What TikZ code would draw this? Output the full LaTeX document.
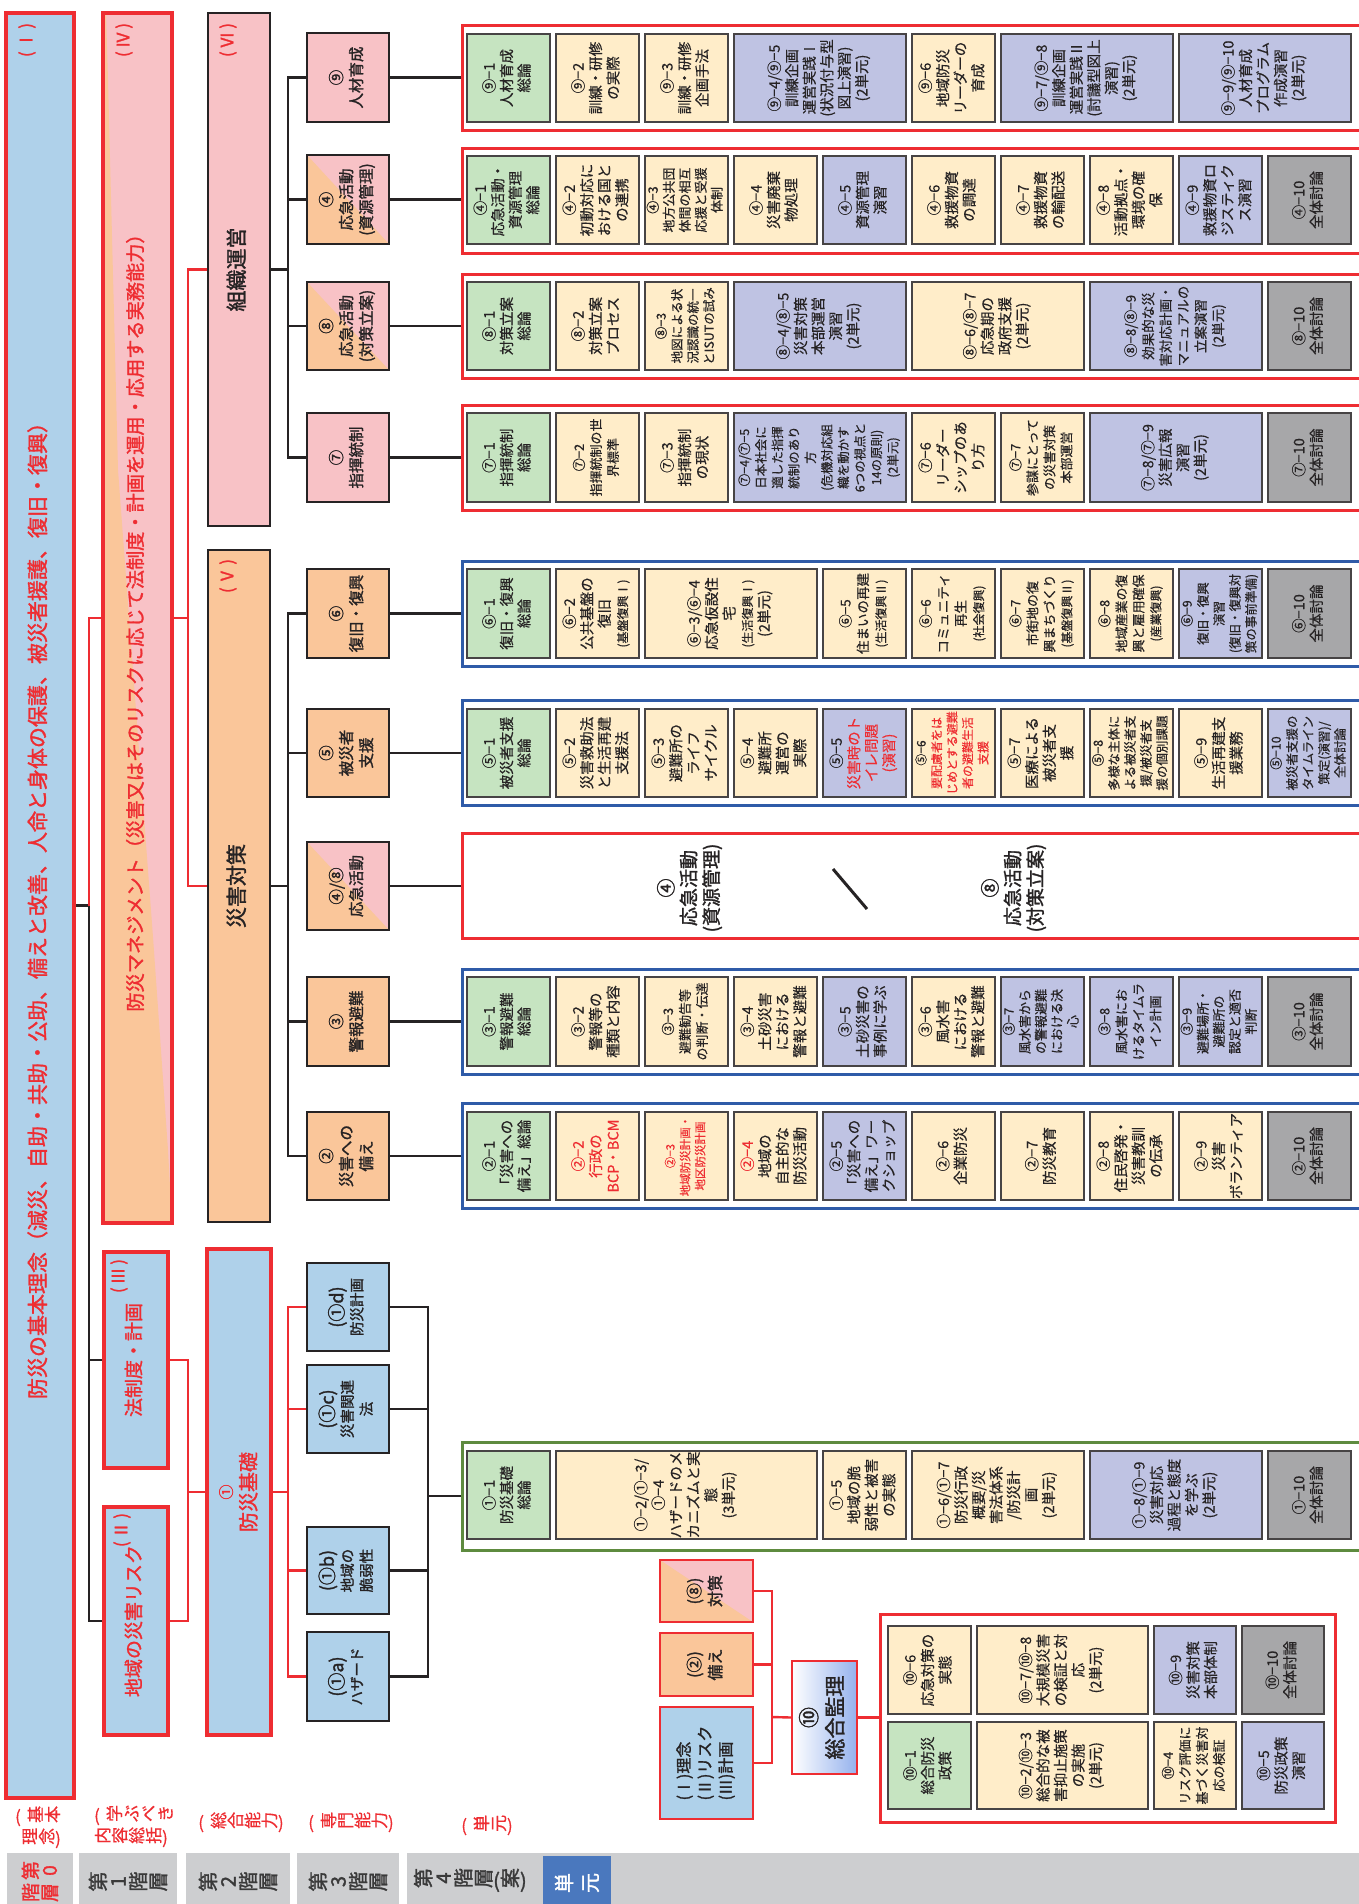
\documentclass[tikz,border=0pt]{standalone}
\usepackage{fontspec}
\setmainfont{Noto Sans CJK JP}[AutoFakeBold=1.5]
\newfontfamily\medf{Noto Sans CJK JP}[FakeBold=0.45]
\usepackage{graphicx}
\definecolor{lblue}{HTML}{AFD1EA}
\definecolor{pinkc}{HTML}{F8C2C6}
\definecolor{peach}{HTML}{FAC69A}
\definecolor{redc}{HTML}{EE2D32}
\definecolor{grn}{HTML}{C6E4C1}
\definecolor{crm}{HTML}{FFEDC9}
\definecolor{lav}{HTML}{BFC3E3}
\definecolor{gry}{HTML}{A7A7A9}
\definecolor{bfr}{HTML}{2F5BA8}
\definecolor{gfr}{HTML}{5E8B3F}
\definecolor{band}{HTML}{CDCED0}
\definecolor{tang}{HTML}{4A78BE}
\definecolor{ink}{HTML}{262324}
\definecolor{bandtxt}{HTML}{3A3A3A}
\newcommand\fs[2]{\fontsize{#1}{#2}\selectfont}
\newcommand\rt[1]{\rotatebox{90}{\begin{tabular}{@{}c@{}}#1\end{tabular}}}
\newcommand\rtl[1]{\rotatebox{90}{\begin{tabular}{@{}l@{}}#1\end{tabular}}}
\newcommand\BX[7][]{\node[inner sep=0pt,minimum width={#4-#3},minimum height={#6-#5},#1] (#2) at ({(#3+#4)/2},{(#5+#6)/2}) {#7};}
\newcommand\UB[8][]{\BX[ubox,fill=#7,#1]{#2}{#3}{#4}{#5}{#6}{\rt{#8}}}
\newcommand\KB[8][]{\BX[kbox,fill=#7,#1]{#2}{#3}{#4}{#5}{#6}{\rt{#8}}}
\newcommand\SPL[4]{\fill[pinkc] (#1,#3) rectangle (#2,#4); \fill[peach] (#1,#3) -- (#2,#4) -- (#1,#4) -- cycle;}
\def\tgloop#1{\ifx#1\relax\else\rotatebox{90}{\makebox[1em]{\rule[-0.12em]{0pt}{1em}#1}}\expandafter\tgloop\fi}
\newcommand\tg[1]{\tgloop#1\relax}
\newcommand\rd[1]{\textcolor{redc}{#1}}
\begin{document}
\begin{tikzpicture}[x=1pt,y=-1pt,
 ubox/.style={draw=ink!85,line width=1.3pt,text=ink,font=\medf\fs{14.5}{17.5}},
 kbox/.style={draw=ink,line width=2.2pt,text=ink,font=\bfseries\fs{15.5}{20}},
 frm/.style={line width=3pt},
 bigred/.style={draw=redc,line width=4pt,fill=lblue,text=redc,font=\bfseries\fs{19}{22}},
 l2/.style={draw=ink,line width=2pt,text=ink,font=\bfseries\fs{21}{24}},
 lab/.style={rotate=90,text=redc,font=\bfseries\fs{17}{20},inner sep=0pt},
 sbox/.style={draw=redc,line width=2.2pt,text=ink,font=\bfseries\fs{16}{21}},
 blk/.style={draw=ink,line width=2.8pt},
 redl/.style={draw=redc,line width=2.4pt},
 bandbox/.style={fill=band,text=bandtxt,font=\bfseries\fs{20}{23}},
 blab/.style={text=redc,font=\medf\fs{17}{22},inner sep=0pt}]
\useasboundingbox (0,0) rectangle (1359,1904);
\fill[white] (0,0) rectangle (1359,1904);
% ---------- level 4 frames ----------
\BX[frm,draw=redc]{f9}{462}{1370}{25}{130}{}
\BX[frm,draw=redc]{f4}{462}{1370}{148}{253}{}
\BX[frm,draw=redc]{f8}{462}{1370}{274}{378}{}
\BX[frm,draw=redc]{f7}{462}{1370}{405}{510}{}
\BX[frm,draw=bfr]{f6}{462}{1370}{561}{666}{}
\BX[frm,draw=bfr]{f5}{462}{1370}{700}{805}{}
\BX[frm,draw=redc]{f48}{462}{1370}{833}{938}{}
\BX[frm,draw=bfr]{f3}{462}{1370}{969}{1074}{}
\BX[frm,draw=bfr]{f2}{462}{1370}{1103}{1208}{}
\BX[frm,draw=gfr]{f1}{462}{1370}{1442}{1550}{}
\BX[frm,draw=redc]{f10}{880}{1335}{1614}{1822}{}
% ---------- row 9 ----------
\UB{u91}{467}{550}{34}{122}{grn}{⑨−1\\人材育成\\総論}
\UB{u92}{556}{639}{34}{122}{crm}{⑨−2\\訓練・研修\\の実際}
\UB{u93}{645}{728}{34}{122}{crm}{⑨−3\\訓練・研修\\企画手法}
\UB{u94}{734}{906}{34}{122}{lav}{⑨−4/⑨−5\\訓練企画\\運営実践Ⅰ\\(状況付与型\\図上演習)\\(2単元)}
\UB{u96}{912}{995}{34}{122}{crm}{⑨−6\\地域防災\\リーダーの\\育成}
\UB{u97}{1001}{1173}{34}{122}{lav}{⑨−7/⑨−8\\訓練企画\\運営実践Ⅱ\\(討議型図上\\演習)\\(2単元)}
\UB{u99}{1179}{1351}{34}{122}{lav}{⑨−9/⑨−10\\人材育成\\プログラム\\作成演習\\(2単元)}
% ---------- row 4 ----------
\UB{u41}{467}{550}{156}{244}{grn}{④−1\\応急活動・\\資源管理\\総論}
\UB{u42}{556}{639}{156}{244}{crm}{④−2\\初動対応に\\おける国と\\の連携}
\UB[font=\medf\fs{13}{16}]{u43}{645}{728}{156}{244}{crm}{④−3\\地方公共団\\体間の相互\\応援と受援\\体制}
\UB{u44}{734}{817}{156}{244}{crm}{④−4\\災害廃棄\\物処理}
\UB{u45}{823}{906}{156}{244}{lav}{④−5\\資源管理\\演習}
\UB{u46}{912}{995}{156}{244}{crm}{④−6\\救援物資\\の調達}
\UB{u47}{1001}{1084}{156}{244}{crm}{④−7\\救援物資\\の輸配送}
\UB{u48}{1090}{1173}{156}{244}{crm}{④−8\\活動拠点・\\環境の確\\保}
\UB{u49}{1179}{1262}{156}{244}{lav}{④−9\\救援物資ロ\\ジスティク\\ス演習}
\UB{u410}{1268}{1351}{156}{244}{gry}{④−10\\全体討論}
% ---------- row 8 ----------
\UB{u81}{467}{550}{282}{370}{grn}{⑧−1\\対策立案\\総論}
\UB{u82}{556}{639}{282}{370}{crm}{⑧−2\\対策立案\\プロセス}
\UB[font=\medf\fs{12.5}{16}]{u83}{645}{728}{282}{370}{crm}{⑧−3\\地図による状\\況認識の統一\\とISUTの試み}
\UB{u84}{734}{906}{282}{370}{lav}{⑧−4/⑧−5\\災害対策\\本部運営\\演習\\(2単元)}
\UB{u86}{912}{1084}{282}{370}{crm}{⑧−6/⑧−7\\応急期の\\政府支援\\(2単元)}
\UB[font=\medf\fs{13.5}{17.5}]{u88}{1090}{1262}{282}{370}{lav}{⑧−8/⑧−9\\効果的な災\\害対応計画・\\マニュアルの\\立案演習\\(2単元)}
\UB{u810}{1268}{1351}{282}{370}{gry}{⑧−10\\全体討論}
% ---------- row 7 ----------
\UB{u71}{467}{550}{413}{502}{grn}{⑦−1\\指揮統制\\総論}
\UB[font=\medf\fs{13}{17}]{u72}{556}{639}{413}{502}{crm}{⑦−2\\指揮統制の世\\界標準}
\UB{u73}{645}{728}{413}{502}{crm}{⑦−3\\指揮統制\\の現状}
\UB[font=\medf\fs{12.5}{16.5}]{u74}{734}{906}{413}{502}{lav}{⑦−4/⑦−5\\日本社会に\\適した指揮\\統制のあり\\方\\(危機対応組\\織を動かす\\6つの視点と\\14の原則)\\(2単元)}
\UB{u76}{912}{995}{413}{502}{crm}{⑦−6\\リーダー\\シップのあ\\り方}
\UB[font=\medf\fs{13}{17}]{u77}{1001}{1084}{413}{502}{crm}{⑦−7\\参謀にとって\\の災害対策\\本部運営}
\UB{u78}{1090}{1262}{413}{502}{lav}{⑦−8/⑦−9\\災害広報\\演習\\(2単元)}
\UB{u710}{1268}{1351}{413}{502}{gry}{⑦−10\\全体討論}
% ---------- row 6 ----------
\UB{u61}{467}{550}{569}{658}{grn}{⑥−1\\復旧・復興\\総論}
\UB{u62}{556}{639}{569}{658}{crm}{⑥−2\\公共基盤の\\復旧\\{\fs{12}{15}(基盤復興Ⅰ)}}
\UB{u63}{645}{817}{569}{658}{crm}{⑥−3/⑥−4\\応急仮設住\\宅\\{\fs{12}{15}(生活復興Ⅰ)}\\(2単元)}
\UB[font=\medf\fs{13.5}{17.5}]{u65}{823}{906}{569}{658}{crm}{⑥−5\\住まいの再建\\{\fs{12}{15}(生活復興Ⅱ)}}
\UB[font=\medf\fs{13.5}{17.5}]{u66}{912}{995}{569}{658}{crm}{⑥−6\\コミュニティ\\再生\\{\fs{12}{15}(社会復興)}}
\UB[font=\medf\fs{13}{17}]{u67}{1001}{1084}{569}{658}{crm}{⑥−7\\市街地の復\\興まちづくり\\{\fs{12}{15}(基盤復興Ⅱ)}}
\UB[font=\medf\fs{13}{17}]{u68}{1090}{1173}{569}{658}{crm}{⑥−8\\地域産業の復\\興と雇用確保\\{\fs{12}{15}(産業復興)}}
\UB[font=\medf\fs{12.5}{16}]{u69}{1179}{1262}{569}{658}{lav}{⑥−9\\復旧・復興\\演習\\(復旧・復興対\\策の事前準備)}
\UB{u610}{1268}{1351}{569}{658}{gry}{⑥−10\\全体討論}
% ---------- row 5 ----------
\UB{u51}{467}{550}{709}{797}{grn}{⑤−1\\被災者支援\\総論}
\UB{u52}{556}{639}{709}{797}{crm}{⑤−2\\災害救助法\\と生活再建\\支援法}
\UB{u53}{645}{728}{709}{797}{crm}{⑤−3\\避難所の\\ライフ\\サイクル}
\UB{u54}{734}{817}{709}{797}{crm}{⑤−4\\避難所\\運営の\\実際}
\UB{u55}{823}{906}{709}{797}{lav}{⑤−5\\\rd{災害時のト}\\\rd{イレ問題}\\\rd{(演習)}}
\UB[font=\medf\fs{12}{15.5}]{u56}{912}{995}{709}{797}{crm}{⑤−6\\\rd{要配慮者をは}\\\rd{じめとする避難}\\\rd{者の避難生活}\\\rd{支援}}
\UB{u57}{1001}{1084}{709}{797}{crm}{⑤−7\\医療による\\被災者支\\援}
\UB[font=\medf\fs{12.5}{16}]{u58}{1090}{1173}{709}{797}{crm}{⑤−8\\多様な主体に\\よる被災者支\\援/被災者支\\援の個別課題}
\UB{u59}{1179}{1262}{709}{797}{crm}{⑤−9\\生活再建支\\援業務}
\UB[font=\medf\fs{12.5}{16}]{u510}{1268}{1351}{709}{797}{lav}{⑤−10\\被災者支援の\\タイムライン\\策定(演習)/\\全体討論}
% ---------- row 4/8 ----------
\node[text=ink,font=\bfseries\fs{19}{22},inner sep=0pt] (t4) at (691,888) {\rt{④\\応急活動\\(資源管理)}};
\node[text=ink,font=\bfseries\fs{19}{22},inner sep=0pt] (t8) at (1015,888) {\rt{⑧\\応急活動\\(対策立案)}};
\draw[ink,line width=3pt] (833,869) -- (867,909);
% ---------- row 3 ----------
\UB{u31}{467}{550}{977}{1066}{grn}{③−1\\警報避難\\総論}
\UB{u32}{556}{639}{977}{1066}{crm}{③−2\\警報等の\\種類と内容}
\UB[font=\medf\fs{13}{17}]{u33}{645}{728}{977}{1066}{crm}{③−3\\避難勧告等\\の判断・伝達}
\UB{u34}{734}{817}{977}{1066}{crm}{③−4\\土砂災害\\における\\警報と避難}
\UB{u35}{823}{906}{977}{1066}{lav}{③−5\\土砂災害の\\事例に学ぶ}
\UB{u36}{912}{995}{977}{1066}{crm}{③−6\\風水害\\における\\警報と避難}
\UB[font=\medf\fs{13}{16}]{u37}{1001}{1084}{977}{1066}{lav}{③−7\\風水害から\\の警報避難\\における決\\心}
\UB[font=\medf\fs{13}{17}]{u38}{1090}{1173}{977}{1066}{lav}{③−8\\風水害にお\\けるタイムラ\\イン計画}
\UB[font=\medf\fs{13}{16}]{u39}{1179}{1262}{977}{1066}{lav}{③−9\\避難場所・\\避難所の\\認定と適否\\判断}
\UB{u310}{1268}{1351}{977}{1066}{gry}{③−10\\全体討論}
% ---------- row 2 ----------
\UB{u21}{467}{550}{1112}{1200}{grn}{②−1\\「災害への\\備え」総論}
\UB[text=redc]{u22}{556}{639}{1112}{1200}{crm}{②−2\\行政の\\BCP・BCM}
\UB[text=redc,font=\medf\fs{11.5}{15}]{u23}{645}{728}{1112}{1200}{crm}{②−3\\地域防災計画・\\地区防災計画}
\UB{u24}{734}{817}{1112}{1200}{crm}{\rd{②−4}\\地域の\\自主的な\\防災活動}
\UB{u25}{823}{906}{1112}{1200}{lav}{②−5\\「災害への\\備え」ワー\\クショップ}
\UB{u26}{912}{995}{1112}{1200}{crm}{②−6\\企業防災}
\UB{u27}{1001}{1084}{1112}{1200}{crm}{②−7\\防災教育}
\UB{u28}{1090}{1173}{1112}{1200}{crm}{②−8\\住民啓発・\\災害教訓\\の伝承}
\UB{u29}{1179}{1262}{1112}{1200}{crm}{②−9\\災害\\ボランティア}
\UB{u210}{1268}{1351}{1112}{1200}{gry}{②−10\\全体討論}
% ---------- row 1 ----------
\UB{u11}{467}{550}{1451}{1539}{grn}{①−1\\防災基礎\\総論}
\UB{u12}{556}{817}{1451}{1539}{crm}{①−2/①−3/\\①−4\\ハザードのメ\\カニズムと実\\態\\(3単元)}
\UB{u15}{823}{906}{1451}{1539}{crm}{①−5\\地域の脆\\弱性と被害\\の実態}
\UB{u16}{912}{1084}{1451}{1539}{crm}{①−6/①−7\\防災行政\\概要/災\\害法体系\\/防災計\\画\\(2単元)}
\UB{u18}{1090}{1262}{1451}{1539}{lav}{①−8/①−9\\災害対応\\過程と態度\\を学ぶ\\(2単元)}
\UB{u110}{1268}{1351}{1451}{1539}{gry}{①−10\\全体討論}
% ---------- row 10 ----------
\UB{u106}{888}{971}{1626}{1714}{crm}{⑩−6\\応急対策の\\実態}
\UB{u107}{977}{1148}{1626}{1714}{crm}{⑩−7/⑩−8\\大規模災害\\の検証と対\\応\\(2単元)}
\UB{u109}{1154}{1236}{1626}{1714}{lav}{⑩−9\\災害対策\\本部体制}
\UB{u1010}{1242}{1324}{1626}{1714}{gry}{⑩−10\\全体討論}
\UB{u101}{888}{971}{1722}{1809}{grn}{⑩−1\\総合防災\\政策}
\UB{u102}{977}{1148}{1722}{1809}{crm}{⑩−2/⑩−3\\総合的な被\\害抑止施策\\の実施\\(2単元)}
\UB[font=\medf\fs{13}{17}]{u104}{1154}{1236}{1722}{1809}{crm}{⑩−4\\リスク評価に\\基づく災害対\\応の検証}
\UB{u105}{1242}{1324}{1722}{1809}{lav}{⑩−5\\防災政策\\演習}
% ---------- level 3 ----------
\KB{k9}{307}{389}{33}{122}{pinkc}{⑨\\人材育成}
\SPL{307}{389}{155}{244}
\KB{k4}{307}{389}{155}{244}{none}{④\\応急活動\\(資源管理)}
\SPL{307}{389}{282}{370}
\KB{k8}{307}{389}{282}{370}{none}{⑧\\応急活動\\(対策立案)}
\KB{k7}{307}{389}{413}{502}{pinkc}{⑦\\指揮統制}
\KB{k6}{307}{389}{569}{658}{peach}{⑥\\復旧・復興}
\KB{k5}{307}{389}{709}{797}{peach}{⑤\\被災者\\支援}
\SPL{307}{389}{842}{930}
\KB{k48}{307}{389}{842}{930}{none}{④/⑧\\応急活動}
\KB{k3}{307}{389}{977}{1066}{peach}{③\\警報避難}
\KB{k2}{307}{389}{1112}{1200}{peach}{②\\災害への\\備え}
\KB[font=\bfseries\fs{14.5}{19}]{k1d}{307}{389}{1263}{1351}{lblue}{{\fs{18}{20}(①d)}\\防災計画}
\KB[font=\bfseries\fs{14.5}{19}]{k1c}{307}{389}{1365}{1453}{lblue}{{\fs{18}{20}(①c)}\\災害関連\\法}
\KB[font=\bfseries\fs{14.5}{19}]{k1b}{307}{389}{1527}{1614}{lblue}{{\fs{18}{20}(①b)}\\地域の\\脆弱性}
\KB[font=\bfseries\fs{14.5}{19}]{k1a}{307}{389}{1632}{1721}{lblue}{{\fs{18}{20}(①a)}\\ハザード}
% ---------- level 2 ----------
\BX[l2,fill=pinkc]{L2o}{208}{270}{13}{526}{\rt{組織運営}}
\BX[l2,fill=peach]{L2t}{208}{270}{550}{1222}{\rt{災害対策}}
\BX[bigred,font=\bfseries\fs{20}{24}]{L2k}{207}{271}{1249}{1735}{\rt{{\fs{15}{18}①}\\防災基礎}}
\node[lab] (lVI) at (228,40) {(\,Ⅵ\,)};
\node[lab] (lV) at (228,576) {(\,Ⅴ\,)};
% ---------- level 1 ----------
\fill[pinkc] (103,13) rectangle (172,1223);
\fill[peach] (103,13) -- (106,13) -- (108,80) -- (118,470) -- (153,937) -- (168,1150) -- (172,1223) -- (103,1223) -- cycle;
\BX[bigred,fill=none,font=\bfseries\fs{19.2}{22}]{L1m}{103}{172}{13}{1223}{\rt{防災マネジメント（災害又はそのリスクに応じて法制度・計画を運用・応用する実務能力）}}
\BX[bigred]{L1p}{104}{168}{1252}{1468}{\rt{法制度・計画}}
\BX[bigred]{L1r}{104}{168}{1507}{1735}{\rt{地域の災害リスク}}
\node[lab] (lIV) at (124,40) {(\,Ⅳ\,)};
\node[lab] (lIII) at (119,1276) {(\,Ⅲ\,)};
\node[lab] (lII) at (122,1530) {(\,Ⅱ\,)};
% ---------- level 0 ----------
\BX[bigred,font=\bfseries\fs{21}{24}]{L0}{6}{74}{13}{1798}{\rt{防災の基本理念（減災、自助・共助・公助、備えと改善、人命と身体の保護、被災者援護、復旧・復興）}}
\node[lab] (lI) at (27,40) {(\,Ⅰ\,)};
% ---------- 10 area ----------
\SPL{660}{753}{1560}{1622}
\BX[sbox,fill=none]{s8}{660}{753}{1560}{1622}{\rt{(⑧)\\対策}}
\BX[sbox,fill=peach]{s2}{660}{753}{1633}{1696}{\rt{(②)\\備え}}
\BX[sbox,fill=lblue]{s123}{660}{753}{1707}{1819}{\rtl{(Ⅰ)理念\\(Ⅱ)リスク\\(Ⅲ)計画}}
\shade[left color=white,right color=lblue!85!blue] (792,1661) rectangle (857,1774);
\BX[sbox,fill=none,font=\bfseries\fs{21}{26}]{s10}{792}{857}{1661}{1774}{\rt{⑩\\総合監理}}
% ---------- connectors ----------
\coordinate (t0) at (89,905.5);
\draw[blk] (L0.east) -- (t0) |- (L1r.west);
\draw[blk] (L1p.west) -- (L1p.west -| t0);
\draw[redl] (L1m.west) -| (t0);
\coordinate (b1) at (188,618);
\draw[redl] (L1m.east) -- (b1);
\draw[redl] (L2o.west) -| (b1) |- (L2t.west);
\coordinate (b2) at (188,1492);
\draw[redl] (L1p.east) -| (b2) |- (L1r.east);
\draw[redl] (b2) -- (L2k.west);
\coordinate (c1) at (288,269.5);
\draw[blk] (L2o.east) -- (c1);
\draw[blk] (k9.west) -| (c1) |- (k7.west);
\draw[blk] (k4.west) -- (k4.west -| c1);
\draw[blk] (k8.west) -- (k8.west -| c1);
\coordinate (c2) at (288,886);
\draw[blk] (L2t.east) -- (c2);
\draw[blk] (k6.west) -| (c2) |- (k2.west);
\draw[blk] (k5.west) -- (k5.west -| c2);
\draw[blk] (k3.west) -- (k3.west -| c2);
\coordinate (c3) at (288,1492);
\draw[redl] (L2k.east) -- (c3);
\draw[redl] (k1d.west) -| (c3) |- (k1a.west);
\draw[redl] (k1c.west) -- (k1c.west -| c3);
\draw[redl] (k1b.west) -- (k1b.west -| c3);
\coordinate (c4) at (428,1496);
\draw[blk] (k1d.east) -| (c4) |- (k1a.east);
\draw[blk] (k1c.east) -- (k1c.east -| c4);
\draw[blk] (k1b.east) -- (k1b.east -| c4);
\draw[blk] (c4) -- (f1.west);
\foreach \k/\f in {k9/f9,k4/f4,k8/f8,k7/f7,k6/f6,k5/f5,k48/f48,k3/f3,k2/f2}
  \draw[blk] (\k.east) -- (\k.east -| \f.west);
\coordinate (c5) at (772,1717);
\draw[redl] (s8.east) -| (c5) |- (s123.east);
\draw[redl] (s2.east) -- (s2.east -| c5);
\draw[redl] (c5) -- (s10.west);
\draw[redl] (s10.east) -- (s10.east -| f10.west);
% ---------- level band ----------
\BX[bandbox,text=redc,font=\bfseries\fs{19}{22},align=center]{b0}{7}{73}{1853}{1910}{\tg{第0}\\\tg{階層}}
\BX[bandbox]{b1}{79}{177}{1853}{1910}{\tg{第1階層}}
\BX[bandbox]{b2}{186}{290}{1853}{1910}{\tg{第2階層}}
\BX[bandbox]{b3}{297}{399}{1853}{1910}{\tg{第3階層}}
\BX[bandbox]{b4}{407}{1370}{1853}{1910}{}
\node[anchor=west,text=bandtxt,font=\bfseries\fs{20}{23},inner sep=0pt] (b4t) at (413,1880) {\tg{第4階層}(\tg{案})};
\BX[fill=tang,text=white,font=\bfseries\fs{20}{22}]{tan}{543}{611}{1856}{1910}{\tg{単}\hspace{6pt}\tg{元}}
\node[blab,align=right] (lb0) at (38,1827) {(\hspace{6pt}\tg{基本}\\\tg{理念})};
\node[blab,align=left] (lb1) at (134,1826) {(\hspace{6pt}\tg{学ぶべき}\\\tg{内容総括})};
\node[blab] (lb2) at (241,1822) {(\hspace{6pt}\tg{総合能力})};
\node[blab] (lb3) at (351,1822) {(\hspace{6pt}\tg{専門能力})};
\node[blab] (lb4) at (487,1825) {(\hspace{6pt}\tg{単元})};
\end{tikzpicture}
\end{document}
